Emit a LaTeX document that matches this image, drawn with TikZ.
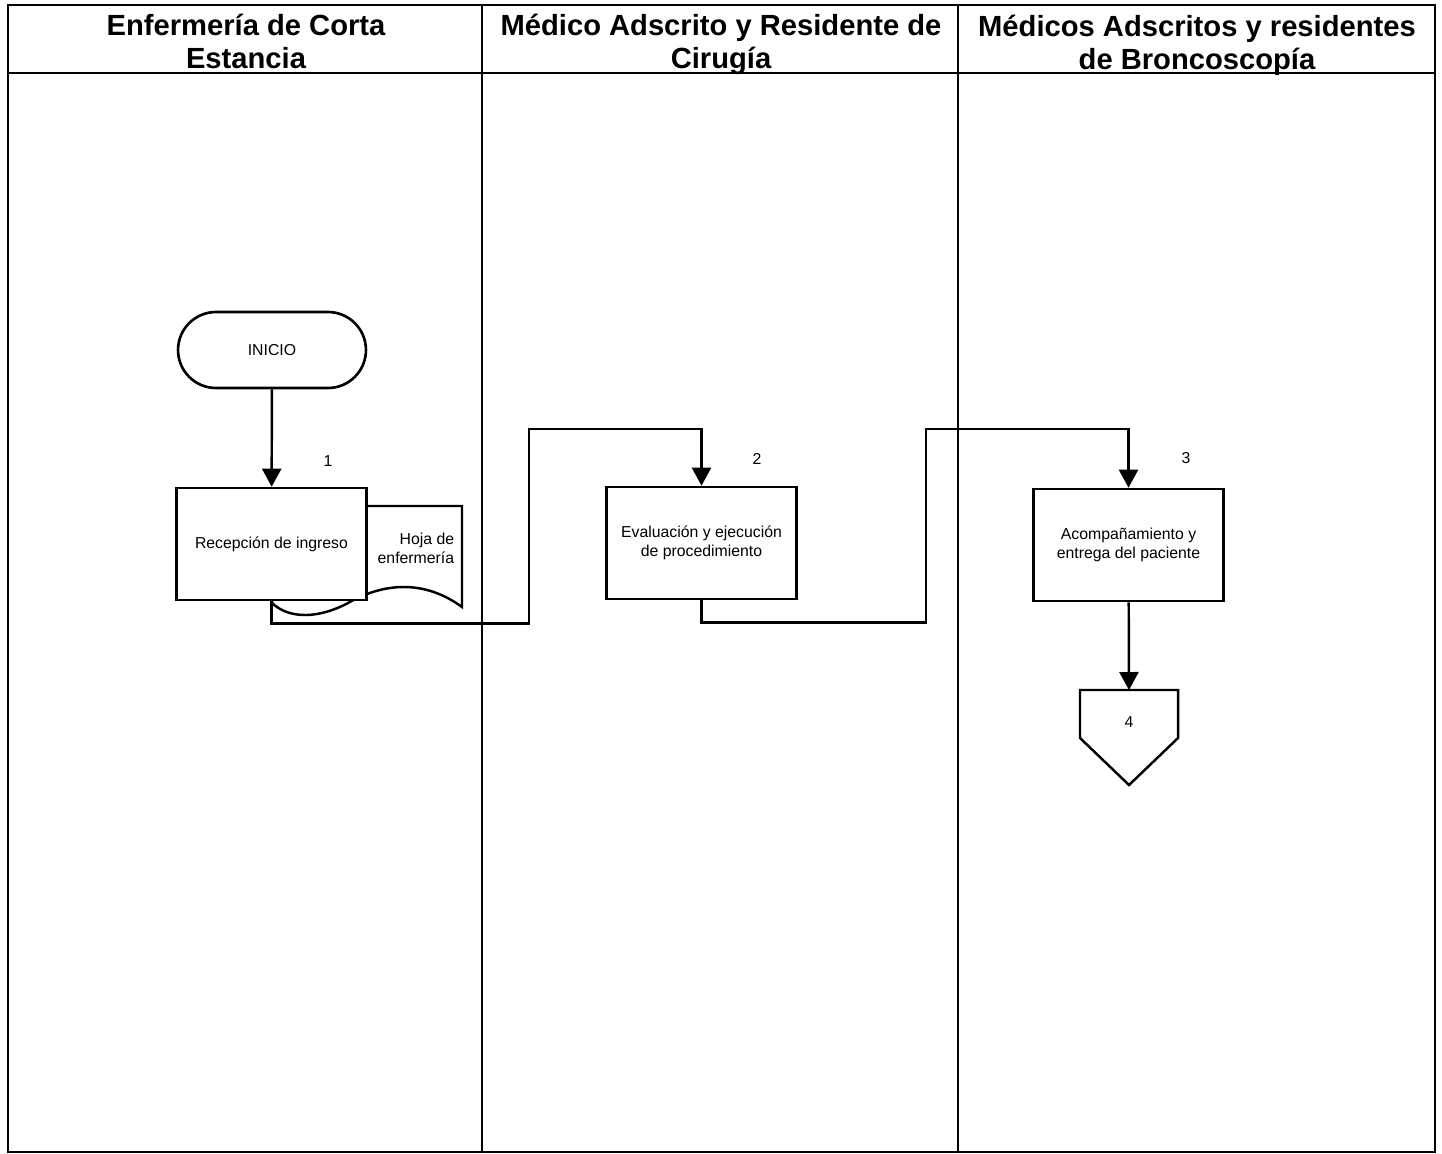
\documentclass[tikz,border=0pt]{standalone}
\usepackage{fontspec}
\setmainfont{Liberation Sans}
\usepackage{tikz}
\usetikzlibrary{positioning, arrows.meta, shapes.misc}

\begin{document}
\begin{tikzpicture}[x=0.02cm, y=-0.02cm, every node/.style={inner sep=2pt},
  lane/.style={draw, line width=0.7pt},
  lanehead/.style={font=\fontsize{16.6}{18.8}\selectfont\bfseries, align=center},
  proc/.style={draw, fill=white, line width=1.5pt, minimum width=3.8cm,
    minimum height=2.24cm, align=center, font=\fontsize{9}{10.9}\selectfont},
  term/.style={draw, fill=white, line width=1.5pt, rounded rectangle,
    minimum width=3.9cm, minimum height=1.52cm, font=\fontsize{9}{10.9}\selectfont},
  num/.style={font=\fontsize{9}{10.9}\selectfont},
  arrow/.style={-{Triangle[width=0.38cm, length=0.36cm]}, line width=1.4pt},
  link/.style={line width=1.4pt}]
\useasboundingbox (0,0) rectangle (1442,1153);
% lanes
\draw[lane] (8,5) rectangle (1435,1152);
\draw[lane] (8,73) -- (1435,73);
\draw[lane] (482,5) -- (482,1152);
\draw[lane] (958,5) -- (958,1152);
\node[lanehead] (H1) at (246,41) {Enfermería de Corta\\Estancia};
\node[lanehead] (H2) at (721,44.5) {Médico Adscrito y Residente de\\Cirugía};
\node[lanehead] (H3) at (1197,45) {Médicos Adscritos y residentes\\de Broncoscopía};

% document behind the first step
\draw[link, fill=white] (272,506) -- (462,506) -- (462,607)
  .. controls (425,580) and (385,582) .. (348,603)
  .. controls (320,618) and (290,620) .. (272,603) -- cycle;
\node[num, align=right, anchor=east] (doc) at (458,548) {Hoja de\\enfermería};

% steps
\node[term] (inicio) at (272,350) {INICIO};
\node[proc] (s1) at (271.5,544) {Recepción de ingreso};
\node[proc] (s2) at (701.5,543) {Evaluación y ejecución\\de procedimiento};
\node[proc] (s3) at (1128.5,545) {Acompañamiento y\\entrega del paciente};
\node[num] (n1) at (328,461) {1};
\node[num] (n2) at (757,459) {2};
\node[num] (n3) at (1186,458) {3};
% off-page connector
\coordinate (p4) at (1129,690);
\draw[link, fill=white] (1080,690) -- (1178,690) -- (1178,738) -- (1129,785)
  -- (1080,738) -- cycle;
\node[num] (c4) at (1129,722) {4};

% connectors
\draw[arrow] (inicio) -- (s1);
\draw[arrow] (s1.south) -- ++(0,22) -| (529,429) -| (s2.north);
\draw[arrow] (s2.south) -- ++(0,22) -| (926,429) -| (s3.north);
\draw[arrow] (s3) -- (p4);
\end{tikzpicture}
\end{document}
